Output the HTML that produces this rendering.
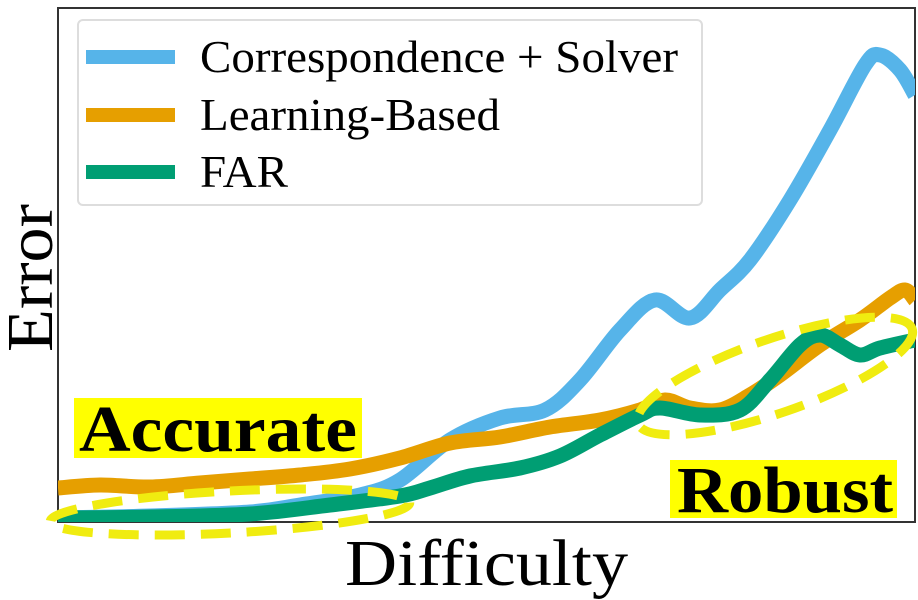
<!DOCTYPE html>
<html><head><meta charset="utf-8"><style>
body{margin:0;background:#fff;}
svg{display:block;font-family:"Liberation Serif",serif;}
</style></head><body>
<svg id="chart" width="918" height="600">
<defs><clipPath id="pc"><rect x="58" y="8" width="857" height="514"/></clipPath></defs>
<rect x="58" y="8" width="857" height="514" fill="#fff" stroke="#333" stroke-width="2"/>
<g id="series" clip-path="url(#pc)"></g>
<ellipse cx="230" cy="512" rx="180" ry="21" transform="rotate(-3 230 512)" fill="none" stroke="#f0ec10" stroke-width="9" stroke-dasharray="30 16"/>
<ellipse cx="775" cy="376" rx="145" ry="37" transform="rotate(-19 775 376)" fill="none" stroke="#f0ec10" stroke-width="9" stroke-dasharray="30 16"/>
<rect x="74" y="398" width="288" height="60" fill="#ffff00"/>
<text x="79" y="451" font-size="66" font-weight="bold" textLength="278" lengthAdjust="spacingAndGlyphs">Accurate</text>
<rect x="670" y="460" width="227" height="58" fill="#ffff00"/>
<text x="677" y="512" font-size="66" font-weight="bold" textLength="216" lengthAdjust="spacingAndGlyphs">Robust</text>
<g>
<rect x="78" y="20" width="624" height="185" rx="5" fill="#fff" fill-opacity="0.85" stroke="#ddd" stroke-width="2"/>
<line x1="86" y1="57" x2="175" y2="57" stroke="#56b4e9" stroke-width="14"/>
<text x="200" y="72" font-size="46" textLength="478" lengthAdjust="spacingAndGlyphs">Correspondence + Solver</text>
<line x1="86" y1="115" x2="175" y2="115" stroke="#e69f00" stroke-width="14"/>
<text x="200" y="130" font-size="46" textLength="300" lengthAdjust="spacingAndGlyphs">Learning-Based</text>
<line x1="86" y1="172" x2="175" y2="172" stroke="#009e73" stroke-width="14"/>
<text x="200" y="187" font-size="46" textLength="88" lengthAdjust="spacingAndGlyphs">FAR</text>
</g>
<text transform="translate(52 278) rotate(-90)" text-anchor="middle" font-size="66" textLength="148" lengthAdjust="spacingAndGlyphs">Error</text>
<text x="345" y="585" font-size="66" textLength="283" lengthAdjust="spacingAndGlyphs">Difficulty</text>
</svg>
<script>
const blueX=[0,92,192,242,302,342,392,442,487,522,562,597,632,662,692,732,772,807,822,842,857];
const blueY=[4,6,10,17,27,42,82,104,112,142,192,222,204,232,262,322,392,457,467,452,427];
const orangeX=[0,42,92,142,192,242,292,342,392,442,492,542,582,607,632,662,692,722,762,802,832,847,857];
const orangeY=[34,37,35,39,43,47,53,64,79,85,95,102,112,122,114,112,127,147,177,202,224,232,222];
const greenX=[0,92,192,272,342,372,412,462,502,542,582,602,642,682,712,742,762,782,802,822,857];
const greenY=[4,5,8,17,26,34,46,54,66,87,107,114,107,112,142,177,187,177,167,174,182];
const X0=58,X1=915,Y0=522,Y1=8,XMAX=857,YMAX=514;
const sx=v=>X0+v/XMAX*(X1-X0), sy=v=>Y0-v/YMAX*(Y0-Y1);
function path(xs,ys){
  const p=xs.map((x,i)=>[sx(x),sy(ys[i])]);
  let d=`M${p[0][0]},${p[0][1]}`;
  for(let i=0;i<p.length-1;i++){
    const a=p[Math.max(0,i-1)],b=p[i],c=p[i+1],e=p[Math.min(p.length-1,i+2)];
    d+=` C${b[0]+(c[0]-a[0])/6},${b[1]+(c[1]-a[1])/6} ${c[0]-(e[0]-b[0])/6},${c[1]-(e[1]-b[1])/6} ${c[0]},${c[1]}`;
  }
  return d;
}
const g=document.getElementById('series');
const ns='http://www.w3.org/2000/svg';
[[blueX,blueY,'#56b4e9','correspondence-solver-line'],[orangeX,orangeY,'#e69f00','learning-based-line'],[greenX,greenY,'#009e73','far-line']].forEach(s=>{
  const el=document.createElementNS(ns,'path');
  el.setAttribute('d',path(s[0],s[1]));
  el.setAttribute('fill','none');
  el.setAttribute('stroke',s[2]);
  el.setAttribute('stroke-width','15');
  el.setAttribute('stroke-linejoin','round');
  
  
  g.appendChild(el);
});
</script>
</body></html>
